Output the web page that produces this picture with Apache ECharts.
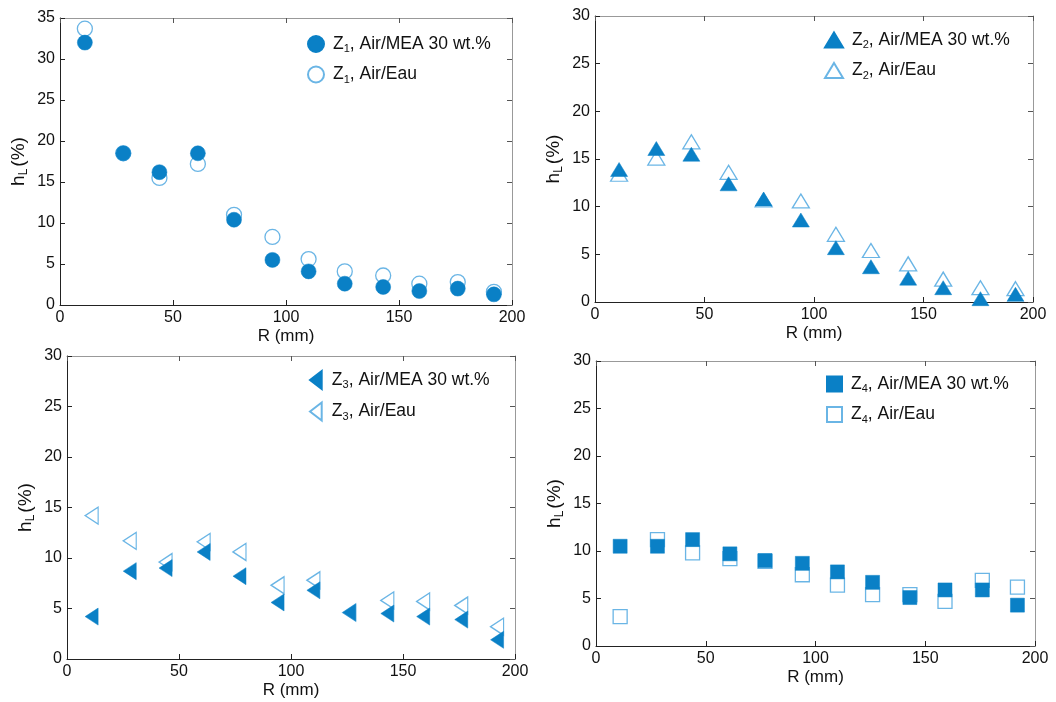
<!DOCTYPE html>
<html><head><meta charset="utf-8">
<script src="https://cdn.jsdelivr.net/npm/echarts@6/dist/echarts.min.js"></script>
<style>html,body{margin:0;padding:0;background:#fff}#c{width:1056px;height:702px}</style>
</head><body><div id="c"></div>
<script>
const R = [11, 28, 44, 61, 77, 94, 110, 126, 143, 159, 176, 192];
const xTicks = [0, 50, 100, 150, 200];
const z1MEA = [32.0, 18.5, 16.2, 18.5, 10.4, 5.5, 4.1, 2.6, 2.2, 1.7, 2.0, 1.3];
const z1Eau = [33.7, 18.5, 15.5, 17.2, 11.0, 8.3, 5.6, 4.1, 3.6, 2.6, 2.8, 1.6];
const z2MEA = [13.9, 16.1, 15.5, 12.4, 10.8, 8.6, 5.7, 3.7, 2.5, 1.5, 0.35, 0.8];
const z2Eau = [13.4, 15.1, 16.8, 13.6, 10.7, 10.6, 7.1, 5.4, 4.0, 2.4, 1.5, 1.4];
const z3MEA = [4.2, 8.7, 9.0, 10.6, 8.2, 5.6, 6.8, 4.6, 4.5, 4.2, 3.9, 1.9];
const z3Eau = [14.2, 11.7, 9.6, 11.6, 10.6, 7.3, 7.8, 4.6, 5.8, 5.7, 5.3, 3.2];
const z4MEA = [10.5, 10.5, 11.2, 9.7, 9.0, 8.7, 7.8, 6.7, 5.1, 5.9, 5.9, 4.3];
const z4Eau = [3.1, 11.2, 9.8, 9.2, 8.9, 7.5, 6.4, 5.4, 5.4, 4.7, 6.9, 6.2];
const yMax = [35, 30, 30, 30];
const zoneNames = ['1', '2', '3', '4'];
const labMEA = ', Air/MEA 30 wt.%';
const labEau = ', Air/Eau';

const FILL = '#0a80c6';
const OPEN = '#45a2de';
const FONT = 'Liberation Sans, Arial, sans-serif';

const grids = [
  {left: 60, top: 18, width: 452, height: 287},
  {left: 595, top: 16, width: 438, height: 286},
  {left: 67, top: 356, width: 448, height: 303},
  {left: 596, top: 361, width: 439, height: 285}
];
const legendPos = [
  {left: 302, top: 30},
  {left: 819, top: 26},
  {left: 304, top: 365},
  {left: 821, top: 370}
];
const symbols = [
  {s: 'circle', size: 15, lsize: [16, 16]},
  {s: 'triangle', size: [17, 14], lsize: [18, 15]},
  {s: 'path://M0,10 L13,0 L13,20 Z', size: [13, 17], lsize: [14, 18]},
  {s: 'rect', size: 14, lsize: [15, 15]}
];
const meas = [z1MEA, z2MEA, z3MEA, z4MEA];
const eaus = [z1Eau, z2Eau, z3Eau, z4Eau];

const xAxis = [], yAxis = [], series = [], legend = [];
const rich = {
  n: {fontSize: 17.5, fontFamily: FONT, color: '#111'},
  s: {fontSize: 11, fontFamily: FONT, color: '#111', padding: [10, 0, 0, 0]}
};
grids.forEach((g, i) => {
  const xi = xAxis.length, yi = yAxis.length;
  xAxis.push({
    gridIndex: i, type: 'value', min: xTicks[0], max: xTicks[xTicks.length - 1], interval: 50,
    position: 'bottom',
    name: 'R (mm)', nameLocation: 'middle', nameGap: 23,
    nameTextStyle: {fontSize: 17, fontFamily: FONT, color: '#111'},
    axisLine: {show: true, onZero: false, lineStyle: {color: '#222', width: 1}},
    axisTick: {show: true, inside: true, length: 5, lineStyle: {color: '#222'}},
    axisLabel: {fontSize: 16, fontFamily: FONT, color: '#111', margin: 5},
    splitLine: {show: false}
  });
  xAxis.push({
    gridIndex: i, type: 'value', min: xTicks[0], max: xTicks[xTicks.length - 1], interval: 50,
    position: 'top',
    axisLine: {show: true, onZero: false, lineStyle: {color: '#999', width: 1}},
    axisTick: {show: true, inside: true, length: 5, lineStyle: {color: '#555'}},
    axisLabel: {show: false}, splitLine: {show: false}
  });
  yAxis.push({
    gridIndex: i, type: 'value', min: 0, max: yMax[i], interval: 5,
    position: 'left',
    name: '{a|h}{b|L}{a|(%)}', nameLocation: 'middle', nameGap: 30,
    nameTextStyle: {rich: {
      a: {fontSize: 19, fontFamily: FONT, color: '#111'},
      b: {fontSize: 12, fontFamily: FONT, color: '#111', padding: [10, 2, 0, 0]}
    }},
    axisLine: {show: true, onZero: false, lineStyle: {color: '#222', width: 1}},
    axisTick: {show: true, inside: true, length: 5, lineStyle: {color: '#222'}},
    axisLabel: {fontSize: 16, fontFamily: FONT, color: '#111', margin: 5},
    splitLine: {show: false}
  });
  yAxis.push({
    gridIndex: i, type: 'value', min: 0, max: yMax[i], interval: 5,
    position: 'right',
    axisLine: {show: true, onZero: false, lineStyle: {color: '#999', width: 1}},
    axisTick: {show: true, inside: true, length: 5, lineStyle: {color: '#555'}},
    axisLabel: {show: false}, splitLine: {show: false}
  });
  const nEau = 'Z' + zoneNames[i] + labEau;
  const nMEA = 'Z' + zoneNames[i] + labMEA;
  const sym = symbols[i];
  series.push({
    type: 'scatter', name: nEau, xAxisIndex: xi, yAxisIndex: yi,
    symbol: sym.s, symbolSize: sym.size,
    itemStyle: {color: 'rgba(255,255,255,0)', borderColor: OPEN, borderWidth: 1.3},
    data: R.map((r, k) => [r, eaus[i][k]]), z: 2
  });
  series.push({
    type: 'scatter', name: nMEA, xAxisIndex: xi, yAxisIndex: yi,
    symbol: sym.s, symbolSize: sym.size,
    itemStyle: {color: FILL, borderColor: FILL, borderWidth: 0.5, opacity: 1},
    data: R.map((r, k) => [r, meas[i][k]]), z: 3
  });
  legend.push({
    orient: 'vertical', left: legendPos[i].left, top: legendPos[i].top,
    itemGap: 11, itemWidth: sym.lsize[0], itemHeight: sym.lsize[1],
    data: [
      {name: nMEA, icon: sym.s},
      {name: nEau, icon: sym.s}
    ],
    selectedMode: false,
    formatter: function (name) {
      const rest = name.slice(2);
      return '{n|Z}{s|' + name.charAt(1) + '}{n|' + rest + '}';
    },
    textStyle: {rich: rich, padding: [0, 0, 0, 4]}
  });
});

const chart = echarts.init(document.getElementById('c'), null, {renderer: 'canvas'});
chart.setOption({
  animation: false,
  backgroundColor: '#fff',
  grid: grids.map(g => Object.assign({containLabel: false}, g)),
  xAxis, yAxis, series, legend
});
</script></body></html>
